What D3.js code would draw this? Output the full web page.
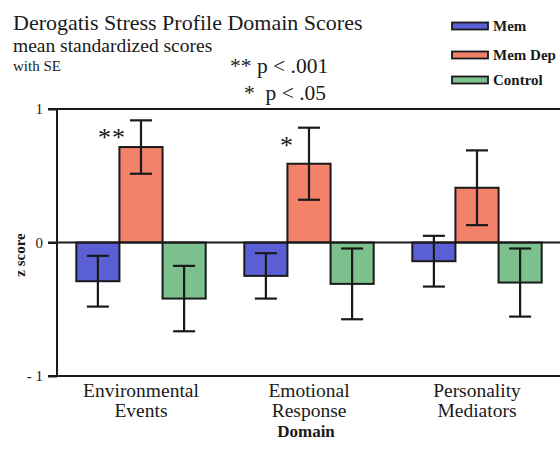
<!DOCTYPE html>
<html>
<head>
<meta charset="utf-8">
<script src="https://cdn.jsdelivr.net/npm/d3@7"></script>
<style>
  html, body { margin: 0; padding: 0; background: #fff; }
</style>
</head>
<body>
<svg id="chart" width="560" height="449" font-family="'Liberation Serif', 'Times New Roman', serif"></svg>
<script>
// Domains on the x axis, each label split over two lines
const categories = ["Environmental Events", "Emotional Response", "Personality Mediators"];
const categoryLines = [["Environmental", "Events"], ["Emotional", "Response"], ["Personality", "Mediators"]];

// Groups (one bar per group in each domain)
const groups = ["Mem", "MemDep", "Control"];
const groupLabels = ["Mem", "Mem Dep", "Control"];
const groupColors = ["#5a5fd6", "#f4826a", "#7bc08d"];

// Mean standardized scores and standard errors
const memMeans = [-0.29, -0.25, -0.14];
const memSE = [0.19, 0.17, 0.19];
const memDepMeans = [0.715, 0.59, 0.41];
const memDepSE = [0.20, 0.27, 0.28];
const controlMeans = [-0.42, -0.31, -0.30];
const controlSE = [0.245, 0.265, 0.255];

// Significance markers drawn above the MemDep bars
const memDepSignificance = ["**", "*", ""];

// Y axis ticks
const yTickValues = [-1, 0, 1];
const yTickLabels = ["- 1", "0", "1"];

const means = [memMeans, memDepMeans, controlMeans];
const ses = [memSE, memDepSE, controlSE];

const rows = [];
categories.forEach((c, ci) => {
  groups.forEach((g, gi) => {
    rows.push({ category: c, group: g, gi, mean: means[gi][ci], se: ses[gi][ci] });
  });
});

const ink = "#1a1a1a";
const svg = d3.select("#chart");
const W = 560;
const axisX = 57;

const x = d3.scaleBand().domain(categories).range([axisX, 561])
  .paddingInner(0.23).paddingOuter(0.115);
const xg = d3.scaleBand().domain(groups).range([0, x.bandwidth()]);
const y = d3.scaleLinear().domain([-1, 1]).range([376, 109]);
const color = d3.scaleOrdinal().domain(groups).range(groupColors);

// Titles
svg.append("text").attr("x", 13).attr("y", 30).attr("font-size", 22).attr("fill", ink)
  .text("Derogatis Stress Profile Domain Scores");
svg.append("text").attr("x", 13).attr("y", 52).attr("font-size", 19.5).attr("fill", ink)
  .text("mean standardized scores");
svg.append("text").attr("x", 13).attr("y", 71).attr("font-size", 15).attr("fill", ink)
  .text("with SE");

// Significance key
svg.append("text").attr("x", 230).attr("y", 73).attr("font-size", 21.5).attr("fill", ink)
  .text("** p < .001");
svg.append("text").attr("x", 244).attr("y", 100).attr("font-size", 21.5).attr("fill", ink)
  .attr("xml:space", "preserve").text("*  p < .05");

// Bars
svg.append("g").selectAll("rect").data(rows).join("rect")
  .attr("x", d => x(d.category) + xg(d.group))
  .attr("width", xg.bandwidth())
  .attr("y", d => y(Math.max(0, d.mean)))
  .attr("height", d => Math.abs(y(d.mean) - y(0)))
  .attr("fill", d => color(d.group))
  .attr("stroke", ink).attr("stroke-width", 2);

// Error bars
const capW = 22;
const err = svg.append("g").attr("stroke", ink).attr("stroke-width", 2.2);
rows.forEach(d => {
  const cx = x(d.category) + xg(d.group) + xg.bandwidth() / 2;
  const y1 = y(d.mean + d.se), y2 = y(d.mean - d.se);
  err.append("line").attr("x1", cx).attr("x2", cx).attr("y1", y1).attr("y2", y2);
  err.append("line").attr("x1", cx - capW / 2).attr("x2", cx + capW / 2).attr("y1", y1).attr("y2", y1);
  err.append("line").attr("x1", cx - capW / 2).attr("x2", cx + capW / 2).attr("y1", y2).attr("y2", y2);
});

// Significance stars beside the MemDep error bar tops
categories.forEach((c, ci) => {
  if (!memDepSignificance[ci]) return;
  const cx = x(c) + xg("MemDep") + xg.bandwidth() / 2;
  const top = y(memDepMeans[ci] + memDepSE[ci]);
  svg.append("text")
    .attr("x", cx - 15).attr("y", top + 26)
    .attr("text-anchor", "end").attr("font-size", 26).attr("fill", ink)
    .attr("letter-spacing", 1)
    .text(memDepSignificance[ci]);
});

// Horizontal reference lines at the tick values
svg.append("g").selectAll("line").data(yTickValues).join("line")
  .attr("x1", 48).attr("x2", W)
  .attr("y1", d => y(d)).attr("y2", d => y(d))
  .attr("stroke", ink).attr("stroke-width", 2);

// Y axis
const yAxis = d3.axisLeft(y).tickValues(yTickValues)
  .tickFormat((d, i) => yTickLabels[i]).tickSize(9).tickPadding(5);
const ya = svg.append("g").attr("transform", `translate(${axisX},0)`).call(yAxis)
  .attr("font-family", null);
ya.select(".domain").attr("stroke", ink).attr("stroke-width", 2).attr("d", `M0,${y(1)}V${y(-1)}`);
ya.selectAll(".tick line").attr("stroke", ink).attr("stroke-width", 2);
ya.selectAll(".tick text").attr("font-size", 15).attr("fill", ink);

svg.append("text")
  .attr("transform", `translate(25,255) rotate(-90)`)
  .attr("text-anchor", "middle").attr("font-size", 15).attr("font-weight", "bold").attr("fill", ink)
  .text("z score");

// X axis labels
const xa = svg.append("g");
categories.forEach((c, ci) => {
  const t = xa.append("text").attr("text-anchor", "middle").attr("font-size", 19.5).attr("fill", ink);
  categoryLines[ci].forEach((line, li) => {
    t.append("tspan").attr("x", x(c) + x.bandwidth() / 2).attr("y", 397 + li * 20).text(line);
  });
});
svg.append("text").attr("x", 306).attr("y", 437).attr("text-anchor", "middle")
  .attr("font-size", 17).attr("font-weight", "bold").attr("fill", ink).text("Domain");

// Legend
const legend = svg.append("g");
groups.forEach((g, gi) => {
  const ly = [26, 55, 80][gi];
  legend.append("rect").attr("x", 452).attr("y", ly - 3.5).attr("width", 36).attr("height", 7)
    .attr("fill", groupColors[gi]).attr("stroke", ink).attr("stroke-width", 1.8);
  legend.append("text").attr("x", 493).attr("y", ly + 5).attr("font-size", 15)
    .attr("font-weight", "bold").attr("fill", ink).text(groupLabels[gi]);
});
</script>
</body>
</html>
